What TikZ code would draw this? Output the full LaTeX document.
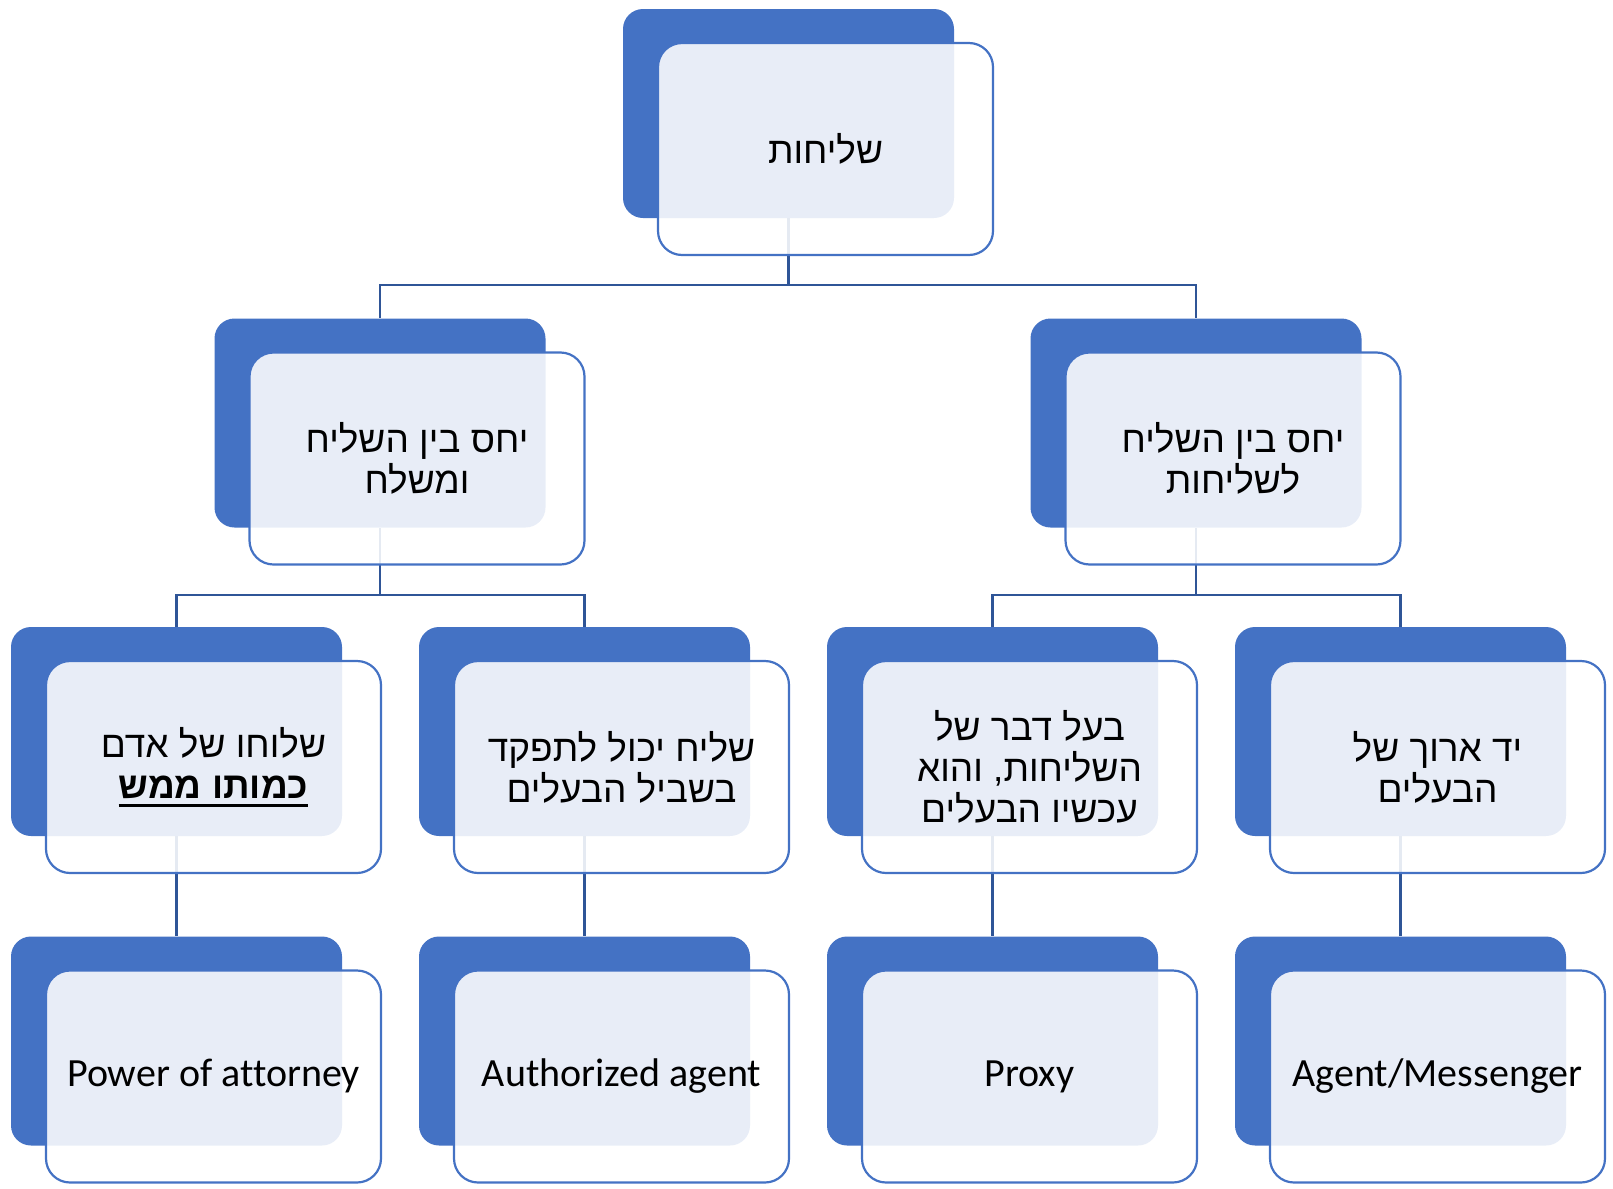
\documentclass[tikz,border=0pt]{standalone}
\usepackage{fontspec}
\setmainfont[Ligatures={NoCommon}]{Carlito}
\newfontfamily\hebfont[Script=Hebrew]{Liberation Sans}
\TeXXeTstate=1
\newcommand\hb[1]{\beginR#1\endR}
\newcommand\hebul[1]{\setbox0\hbox{#1}\rlap{\rule[-4.5pt]{\wd0}{1.3pt}}\box0}
\newcommand\lat[1]{\raisebox{-1.5pt}{#1}}
\definecolor{accent}{HTML}{4472C4}
\definecolor{connc}{HTML}{2F5597}
\tikzset{
  backbox/.style={fill=accent, draw=none, rounded corners=10pt, minimum width=165.5pt, minimum height=104.5pt, inner sep=0pt},
  frontbox/.style={fill=white, fill opacity=0.88, text opacity=1, draw=accent, line width=1.1pt, rounded corners=12pt, minimum width=167.5pt, minimum height=106pt, inner sep=0pt, align=center},
  hebtext/.style={font=\hebfont\fontsize{18.5}{20.5}\selectfont},
  lattext/.style={font=\fontsize{20}{24}\selectfont},
  conn/.style={draw=connc, line width=1.2pt}
}
\begin{document}
\begin{tikzpicture}[x=0.5pt, y=-0.5pt]
\useasboundingbox (0,0) rectangle (1613,1189);
% junction coordinates
\coordinate (j1) at (788.5,285);
\coordinate (j2l) at (380,595);
\coordinate (j2r) at (1196,595);
% back boxes
\node[backbox] (b1) at (788.5,113.5) {};
\node[backbox] (b2l) at (380,423) {};
\node[backbox] (b2r) at (1196,423) {};
\node[backbox] (b3a) at (176.5,731.5) {};
\node[backbox] (b3b) at (584.5,731.5) {};
\node[backbox] (b3c) at (992.5,731.5) {};
\node[backbox] (b3d) at (1400.5,731.5) {};
\node[backbox] (b4a) at (176.5,1041) {};
\node[backbox] (b4b) at (584.5,1041) {};
\node[backbox] (b4c) at (992.5,1041) {};
\node[backbox] (b4d) at (1400.5,1041) {};
% connectors
\draw[conn] (b1.south) -- (j1);
\draw[conn] (j1) -| (b2l.north);
\draw[conn] (j1) -| (b2r.north);
\draw[conn] (b2l.south) -- (j2l);
\draw[conn] (j2l) -| (b3a.north);
\draw[conn] (j2l) -| (b3b.north);
\draw[conn] (b2r.south) -- (j2r);
\draw[conn] (j2r) -| (b3c.north);
\draw[conn] (j2r) -| (b3d.north);
\draw[conn] (b3a.south) -- (b4a.north);
\draw[conn] (b3b.south) -- (b4b.north);
\draw[conn] (b3c.south) -- (b4c.north);
\draw[conn] (b3d.south) -- (b4d.north);
% front boxes
\node[frontbox, hebtext] (f1) at (825.5,149) {\hb{שליחות}};
\node[frontbox, hebtext] (f2l) at (417,458.5) {\hb{יחס בין השליח}\\\hb{ומשלח}};
\node[frontbox, hebtext] (f2r) at (1233,458.5) {\hb{יחס בין השליח}\\\hb{לשליחות}};
\node[frontbox, hebtext] (f3a) at (213.5,767) {\hb{שלוחו של אדם}\\\hebul{\hb{\bfseries כמותו ממש}}};
\node[frontbox, hebtext] (f3b) at (621.5,767) {\hb{שליח יכול לתפקד}\\\hb{בשביל הבעלים}};
\node[frontbox, hebtext] (f3c) at (1029.5,767) {\hb{בעל דבר של}\\\hb{השליחות, והוא}\\\hb{עכשיו הבעלים}};
\node[frontbox, hebtext] (f3d) at (1437.5,767) {\hb{יד ארוך של}\\\hb{הבעלים}};
\node[frontbox, lattext] (f4a) at (213.5,1076.5) {\lat{Power of attorney}};
\node[frontbox, lattext] (f4b) at (621.5,1076.5) {\lat{Authorized agent}};
\node[frontbox, lattext] (f4c) at (1029.5,1076.5) {\lat{Proxy}};
\node[frontbox, lattext] (f4d) at (1437.5,1076.5) {\lat{Agent/Messenger}};
\end{tikzpicture}
\end{document}
